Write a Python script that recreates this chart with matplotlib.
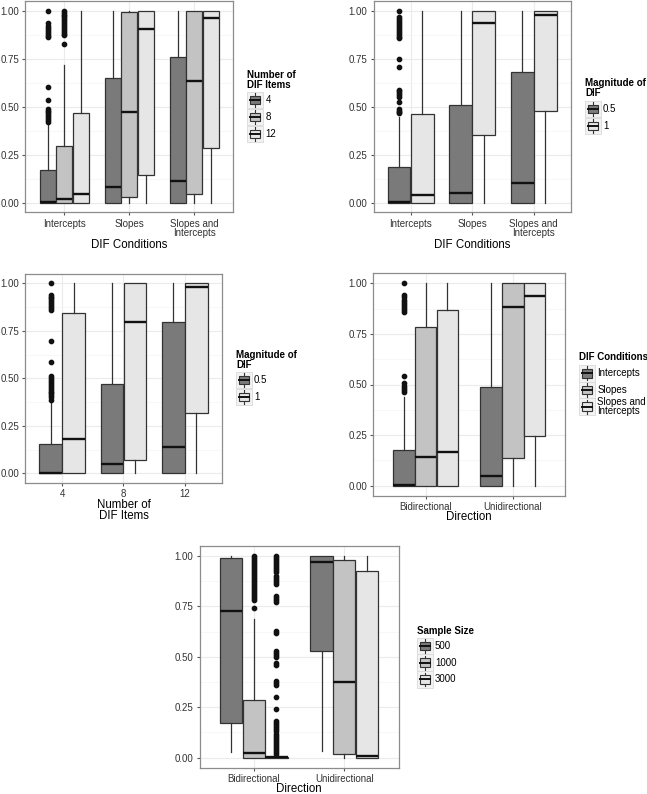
import matplotlib
matplotlib.use("Agg")
import matplotlib.pyplot as plt
from matplotlib.patches import Rectangle
from matplotlib.lines import Line2D

plt.rcParams['font.family'] = ['Liberation Sans', 'DejaVu Sans']

W, H = 647, 794

# ---------------- DATA ----------------
# Panel 1: DIF Conditions x Number of DIF Items
p1_categories = ["Intercepts", "Slopes", "Slopes and\nIntercepts"]
p1_groups = ["4", "8", "12"]
p1_q1 = [[0, 0, 0], [0, 0.028, 0.045], [0, 0.142, 0.286]]
p1_med = [[0.003, 0.08, 0.111], [0.017, 0.47, 0.635], [0.043, 0.903, 0.962]]
p1_q3 = [[0.17, 0.649, 0.759], [0.297, 0.995, 1.0], [0.469, 1.0, 1.0]]
p1_lo = [[0, 0, 0], [0, 0, 0], [0, 0, 0]]
p1_hi = [[0.41, 1.0, 1.0], [0.715, 1.0, 1.0], [1.0, 1.0, 1.0]]
p1_out = [
    [[0.42, 0.43, 0.44, 0.45, 0.46, 0.47, 0.48, 0.49, 0.535, 0.60,
      0.862, 0.87, 0.88, 0.89, 0.90, 0.91, 0.92, 0.934, 1.0], [], []],
    [[0.826, 0.873, 0.88, 0.89, 0.90, 0.91, 0.92, 0.93, 0.94, 0.95, 0.96,
      0.97, 0.98, 0.99, 1.0], [], []],
    [[], [], []],
]

# Panel 2: DIF Conditions x Magnitude of DIF
p2_categories = ["Intercepts", "Slopes", "Slopes and\nIntercepts"]
p2_groups = ["0.5", "1"]
p2_q1 = [[0, 0, 0], [0, 0.352, 0.476]]
p2_med = [[0.005, 0.05, 0.10], [0.038, 0.936, 0.977]]
p2_q3 = [[0.184, 0.507, 0.68], [0.464, 1.0, 1.0]]
p2_lo = [[0, 0, 0], [0, 0, 0]]
p2_hi = [[0.448, 1.0, 1.0], [1.0, 1.0, 1.0]]
p2_out = [
    [[0.465, 0.47, 0.48, 0.49, 0.526, 0.552, 0.56, 0.57, 0.58, 0.587,
      0.708, 0.75, 0.856, 0.865, 0.875, 0.885, 0.895, 0.905, 0.915,
      0.925, 0.935, 0.945, 0.955, 0.965, 1.0], [], []],
    [[], [], []],
]

# Panel 3: Number of DIF Items x Magnitude of DIF
p3_categories = ["4", "8", "12"]
p3_groups = ["0.5", "1"]
p3_q1 = [[0, 0, 0], [0, 0.07, 0.319]]
p3_med = [[0.002, 0.051, 0.139], [0.181, 0.796, 0.979]]
p3_q3 = [[0.153, 0.47, 0.796], [0.842, 1.0, 1.0]]
p3_lo = [[0, 0, 0], [0, 0, 0]]
p3_hi = [[0.37, 1.0, 1.0], [1.0, 1.0, 1.0]]
p3_out = [
    [[0.386, 0.40, 0.41, 0.42, 0.43, 0.44, 0.45, 0.46, 0.47, 0.48, 0.49,
      0.50, 0.51, 0.584, 0.698, 0.86, 0.87, 0.88, 0.89, 0.90, 0.91, 0.92,
      0.93, 0.94, 1.0], [], []],
    [[], [], []],
]

# Panel 4: Direction x DIF Conditions
p4_categories = ["Bidirectional", "Unidirectional"]
p4_groups = ["Intercepts", "Slopes", "Slopes and\nIntercepts"]
p4_q1 = [[0, 0], [0, 0.137], [0, 0.247]]
p4_med = [[0.002, 0.046], [0.14, 0.881], [0.165, 0.936]]
p4_q3 = [[0.175, 0.486], [0.786, 1.0], [0.868, 1.0]]
p4_lo = [[0, 0], [0, 0], [0, 0]]
p4_hi = [[0.44, 1.0], [1.0, 1.0], [1.0, 1.0]]
p4_out = [
    [[0.465, 0.475, 0.485, 0.495, 0.509, 0.542, 0.86, 0.87, 0.88, 0.89,
      0.90, 0.91, 0.92, 0.93, 0.942, 1.0], []],
    [[], []],
    [[], []],
]

# Panel 5: Direction x Sample Size
p5_categories = ["Bidirectional", "Unidirectional"]
p5_groups = ["500", "1000", "3000"]
p5_q1 = [[0.17, 0.531], [0, 0.018], [0, 0]]
p5_med = [[0.729, 0.97], [0.025, 0.374], [0.003, 0.01]]
p5_q3 = [[0.992, 1.0], [0.288, 0.98], [0.006, 0.924]]
p5_lo = [[0.026, 0.035], [0, 0], [0, 0]]
p5_hi = [[1.0, 1.0], [0.689, 1.0], [0.01, 1.0]]
p5_out = [
    [[], []],
    [[0.74, 0.78, 0.79, 0.80, 0.81, 0.82, 0.83, 0.84, 0.85, 0.86, 0.87,
      0.88, 0.89, 0.90, 0.91, 0.92, 0.93, 0.94, 0.95, 0.96, 0.97, 0.98,
      0.99, 1.0], []],
    [[0.02, 0.03, 0.04, 0.05, 0.06, 0.07, 0.08, 0.09, 0.10, 0.11, 0.12,
      0.13, 0.14, 0.15, 0.16, 0.17, 0.18, 0.24, 0.30, 0.36, 0.37, 0.38,
      0.46, 0.47, 0.50, 0.51, 0.52, 0.53, 0.62, 0.63, 0.77, 0.78, 0.79,
      0.80, 0.86, 0.87, 0.88, 0.89, 0.90, 0.92, 0.93, 0.94, 0.95, 0.96,
      0.97, 0.98, 0.99, 1.0], []],
]

y_ticks = [0.0, 0.25, 0.5, 0.75, 1.0]
y_ticklabels = ["0.00", "0.25", "0.50", "0.75", "1.00"]

# ---------------- STYLE ----------------
FILL3 = ["#7a7a7a", "#c3c3c3", "#e6e6e6"]
FILL2 = ["#7a7a7a", "#e6e6e6"]
EDGE = "#333333"
TICK_FS = 7
TITLE_FS = 8.3
LEG_FS = 7

fig = plt.figure(figsize=(W / 100, H / 100), dpi=100)
fig.patch.set_facecolor("white")


def fx(x):
    return x / W


def fy(y):
    return 1 - y / H


def make_axes(x0, x1, y0, y1):
    return fig.add_axes([fx(x0), fy(y1), (x1 - x0) / W, (y1 - y0) / H])


def draw_panel(ax, cats, groups, q1, med, q3, lo, hi, out, fills, xlabel,
               xlabel_y, frame):
    n = len(groups)
    bw = 0.75 / n
    for g in range(n):
        stats = []
        pos = []
        for c in range(len(cats)):
            stats.append(dict(q1=q1[g][c], med=med[g][c], q3=q3[g][c],
                              whislo=lo[g][c], whishi=hi[g][c],
                              fliers=out[g][c]))
            pos.append(c + 1 - 0.375 + bw * (g + 0.5))
        ax.bxp(stats, positions=pos, widths=bw * 0.99, patch_artist=True,
               showcaps=False, showfliers=True,
               boxprops=dict(facecolor=fills[g], edgecolor=EDGE, linewidth=0.9),
               whiskerprops=dict(color=EDGE, linewidth=0.9),
               medianprops=dict(color="#111111", linewidth=1.7),
               flierprops=dict(marker="o", markersize=3.1,
                               markerfacecolor="#111111",
                               markeredgecolor="#111111", linewidth=0),
               manage_ticks=False, zorder=3)
    ax.set_xlim(0.4, len(cats) + 0.6)
    ax.set_ylim(-0.05, 1.05)
    ax.set_xticks(range(1, len(cats) + 1))
    ax.set_xticklabels(cats, fontsize=TICK_FS, color="#333333",
                       linespacing=0.95)
    ax.set_yticks(y_ticks)
    ax.set_yticklabels(y_ticklabels, fontsize=TICK_FS, color="#333333")
    ax.set_yticks([0.125, 0.375, 0.625, 0.875], minor=True)
    ax.tick_params(axis="both", which="major", length=2.5, width=0.8,
                   color="#555555", pad=2)
    ax.tick_params(axis="y", which="minor", length=0)
    ax.grid(True, which="major", color="#ebebeb", linewidth=0.8, zorder=0)
    ax.grid(True, which="minor", axis="y", color="#f4f4f4", linewidth=0.5,
            zorder=0)
    ax.set_axisbelow(True)
    for s in ax.spines.values():
        s.set_color("#8c8c8c")
        s.set_linewidth(0.9)
    ax.set_xlabel(xlabel, fontsize=TITLE_FS, va="center", linespacing=0.95)
    x0, x1, y0, y1 = frame
    ax.xaxis.set_label_coords(0.5, (y1 - xlabel_y) / (y1 - y0))


def draw_legend(x0, title, title_y, labels, centers, fills, label_x,
                key_w=16, key_h=16.6):
    fig.text(fx(x0), fy(title_y), title, fontsize=LEG_FS, fontweight="bold",
             ha="left", va="center", linespacing=0.95)
    for lab, cy, col in zip(labels, centers, fills):
        fig.patches.append(Rectangle((fx(x0), fy(cy + key_h / 2)),
                                     key_w / W, key_h / H,
                                     transform=fig.transFigure,
                                     facecolor="#f2f2f2", edgecolor="#dadada",
                                     linewidth=0.6))
        bx0 = x0 + 3
        bw = key_w - 6
        bh = 8.5
        fig.lines.append(Line2D([fx(x0 + key_w / 2)] * 2,
                                [fy(cy - key_h / 2 + 1.5), fy(cy + key_h / 2 - 1.5)],
                                transform=fig.transFigure, color=EDGE,
                                linewidth=0.8))
        fig.patches.append(Rectangle((fx(bx0), fy(cy + bh / 2)), bw / W, bh / H,
                                     transform=fig.transFigure,
                                     facecolor=col, edgecolor=EDGE,
                                     linewidth=0.8, zorder=3))
        fig.lines.append(Line2D([fx(bx0), fx(bx0 + bw)], [fy(cy), fy(cy)],
                                transform=fig.transFigure, color="#111111",
                                linewidth=1.4, zorder=4))
        fig.text(fx(label_x), fy(cy), lab, fontsize=LEG_FS, ha="left",
                 va="center", linespacing=0.9)


# Panel 1
f1 = (25.3, 233.3, 1.1, 212.3)
ax1 = make_axes(*f1)
draw_panel(ax1, p1_categories, p1_groups, p1_q1, p1_med, p1_q3, p1_lo, p1_hi,
           p1_out, FILL3, "DIF Conditions", 245, f1)
draw_legend(247.3, "Number of\nDIF Items", 80, p1_groups, [100, 117, 134],
            FILL3, 265.5)

# Panel 2
f2 = (373.6, 570.7, 1.1, 212.3)
ax2 = make_axes(*f2)
draw_panel(ax2, p2_categories, p2_groups, p2_q1, p2_med, p2_q3, p2_lo, p2_hi,
           p2_out, FILL2, "DIF Conditions", 245, f2)
draw_legend(585, "Magnitude of\nDIF", 88, p2_groups, [109, 126], FILL2, 603)

# Panel 3
f3 = (25.2, 221.7, 273.8, 482.8)
ax3 = make_axes(*f3)
draw_panel(ax3, p3_categories, p3_groups, p3_q1, p3_med, p3_q3, p3_lo, p3_hi,
           p3_out, FILL2, "Number of\nDIF Items", 510.5, f3)
draw_legend(236, "Magnitude of\nDIF", 360, p3_groups, [380, 397], FILL2, 254)

# Panel 4
f4 = (373.3, 565.0, 273.2, 495.8)
ax4 = make_axes(*f4)
draw_panel(ax4, p4_categories, p4_groups, p4_q1, p4_med, p4_q3, p4_lo, p4_hi,
           p4_out, FILL3, "Direction", 516.5, f4)
draw_legend(579.3, "DIF Conditions", 357.3, p4_groups, [373.3, 390, 406.7],
            FILL3, 597.3)

# Panel 5
f5 = (199.5, 398.5, 545.9, 767.8)
ax5 = make_axes(*f5)
draw_panel(ax5, p5_categories, p5_groups, p5_q1, p5_med, p5_q3, p5_lo, p5_hi,
           p5_out, FILL3, "Direction", 789.5, f5)
draw_legend(416.7, "Sample Size", 631, p5_groups, [646, 662.7, 679.3], FILL3,
            435)

fig.savefig("out.png", dpi=100, facecolor="white")
